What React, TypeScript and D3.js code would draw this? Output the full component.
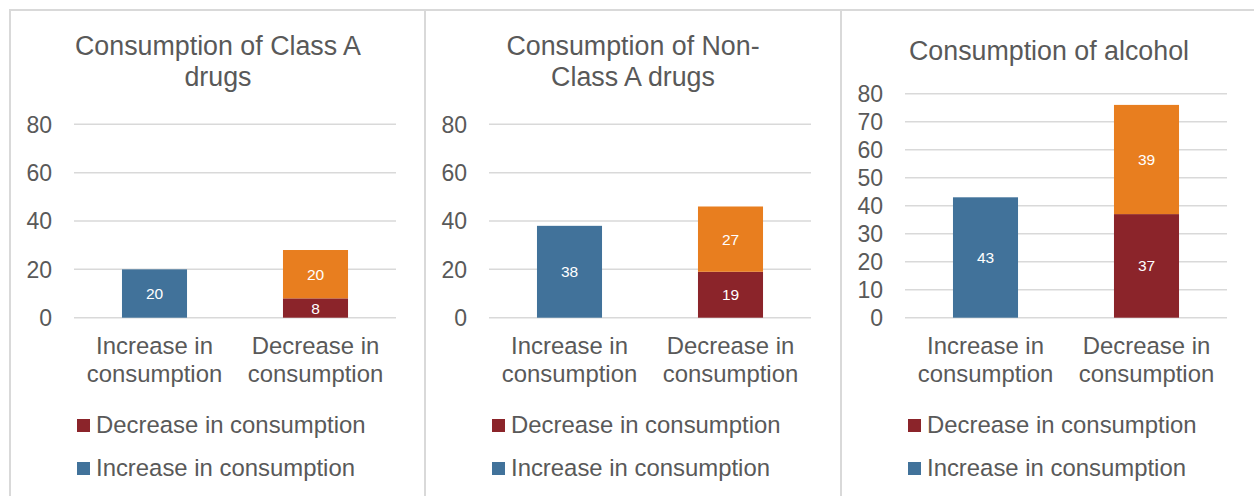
import React from "react";
import * as d3 from "d3";

const panelTitles: string[][] = [
  ["Consumption of Class A", "drugs"],
  ["Consumption of Non-", "Class A drugs"],
  ["Consumption of alcohol"],
];
const categories = ["Increase in consumption", "Decrease in consumption"];
const increaseValues = [20, 38, 43]; // blue, "Increase in consumption" column
const decreaseValues = [8, 19, 37]; // dark red, "Decrease in consumption" column
const otherValues = [20, 27, 39]; // orange, stacked on top of dark red
const yTicksList = [
  [0, 20, 40, 60, 80],
  [0, 20, 40, 60, 80],
  [0, 10, 20, 30, 40, 50, 60, 70, 80],
];
const legendItems = [
  { key: "decrease", label: "Decrease in consumption" },
  { key: "increase", label: "Increase in consumption" },
];

const COLORS: Record<string, string> = {
  increase: "#41729A",
  decrease: "#8B242A",
  other: "#E87E1F",
};
const TEXT = "#595959";
const GRID = "#d9d9d9";
const FONT = "'Liberation Sans', Arial, sans-serif";

const PANEL_X = [10, 425, 841];
const PANEL_W = 416;
const PLOT_TOP = [124.3, 124.3, 93.7];
const PLOT_BOTTOM = 317.7;

function Panel({ idx }: { idx: number }) {
  const ox = PANEL_X[idx] - 10;
  const x = d3
    .scaleBand<string>()
    .domain(categories)
    .range([ox + 74, ox + 396])
    .paddingInner(0.596)
    .paddingOuter(0.298);
  const y = d3.scaleLinear().domain([0, 80]).range([PLOT_BOTTOM, PLOT_TOP[idx]]);

  const rows = [
    { cat: categories[0], increase: increaseValues[idx], decrease: 0, other: 0 },
    { cat: categories[1], increase: 0, decrease: decreaseValues[idx], other: otherValues[idx] },
  ];
  const stack = d3.stack<any>().keys(["increase", "decrease", "other"]);
  const series = stack(rows);

  const titleLines = panelTitles[idx];
  const titleBaselines = titleLines.length === 2 ? [54.5, 85.5] : [60];
  const cx = PANEL_X[idx] + PANEL_W / 2;

  return (
    <g>
      <rect
        x={PANEL_X[idx]}
        y={10}
        width={PANEL_W}
        height={520}
        fill="#fff"
        stroke={GRID}
        strokeWidth={2}
      />
      {titleLines.map((t, i) => (
        <text
          key={i}
          x={cx}
          y={titleBaselines[i]}
          textAnchor="middle"
          fontSize={26.8}
          fill={TEXT}
          fontFamily={FONT}
        >
          {t}
        </text>
      ))}
      {yTicksList[idx].map((t) => (
        <g key={t}>
          <line
            x1={ox + 74}
            x2={ox + 396}
            y1={y(t)}
            y2={y(t)}
            stroke={GRID}
            strokeWidth={1.5}
          />
          <text
            x={ox + 52}
            y={y(t)}
            dy="0.36em"
            textAnchor="end"
            fontSize={23}
            fill={TEXT}
            fontFamily={FONT}
          >
            {t}
          </text>
        </g>
      ))}
      {series.map((s) =>
        s.map((d, j) => {
          const v = d[1] - d[0];
          if (v <= 0) return null;
          const cat = categories[j];
          const bx = x(cat)!;
          return (
            <g key={s.key + j}>
              <rect
                x={bx}
                y={y(d[1])}
                width={x.bandwidth()}
                height={y(d[0]) - y(d[1])}
                fill={COLORS[s.key]}
              />
              <text
                x={bx + x.bandwidth() / 2}
                y={(y(d[0]) + y(d[1])) / 2}
                dy="0.36em"
                textAnchor="middle"
                fontSize={15.5}
                fill="#fff"
                fontFamily={FONT}
              >
                {v}
              </text>
            </g>
          );
        })
      )}
      {categories.map((c) => {
        const words = c.split(" ");
        const l1 = words.slice(0, -1).join(" ");
        const l2 = words[words.length - 1];
        const mx = x(c)! + x.bandwidth() / 2;
        return (
          <g key={c}>
            <text x={mx} y={354} textAnchor="middle" fontSize={23.9} fill={TEXT} fontFamily={FONT}>
              {l1}
            </text>
            <text x={mx} y={382} textAnchor="middle" fontSize={23.9} fill={TEXT} fontFamily={FONT}>
              {l2}
            </text>
          </g>
        );
      })}
      {legendItems.map((it, i) => (
        <g key={it.key}>
          <rect x={ox + 77} y={419 + i * 43} width={13} height={13} fill={COLORS[it.key]} />
          <text
            x={ox + 96}
            y={433 + i * 43}
            fontSize={23.9}
            fill={TEXT}
            fontFamily={FONT}
          >
            {it.label}
          </text>
        </g>
      ))}
    </g>
  );
}

export default function App() {
  return (
    <svg
      width={1254}
      height={496}
      style={{ position: "absolute", left: 0, top: 0, background: "#fff" }}
    >
      <rect x={0} y={0} width={1254} height={496} fill="#fff" />
      {[0, 1, 2].map((i) => (
        <Panel key={i} idx={i} />
      ))}
    </svg>
  );
}
